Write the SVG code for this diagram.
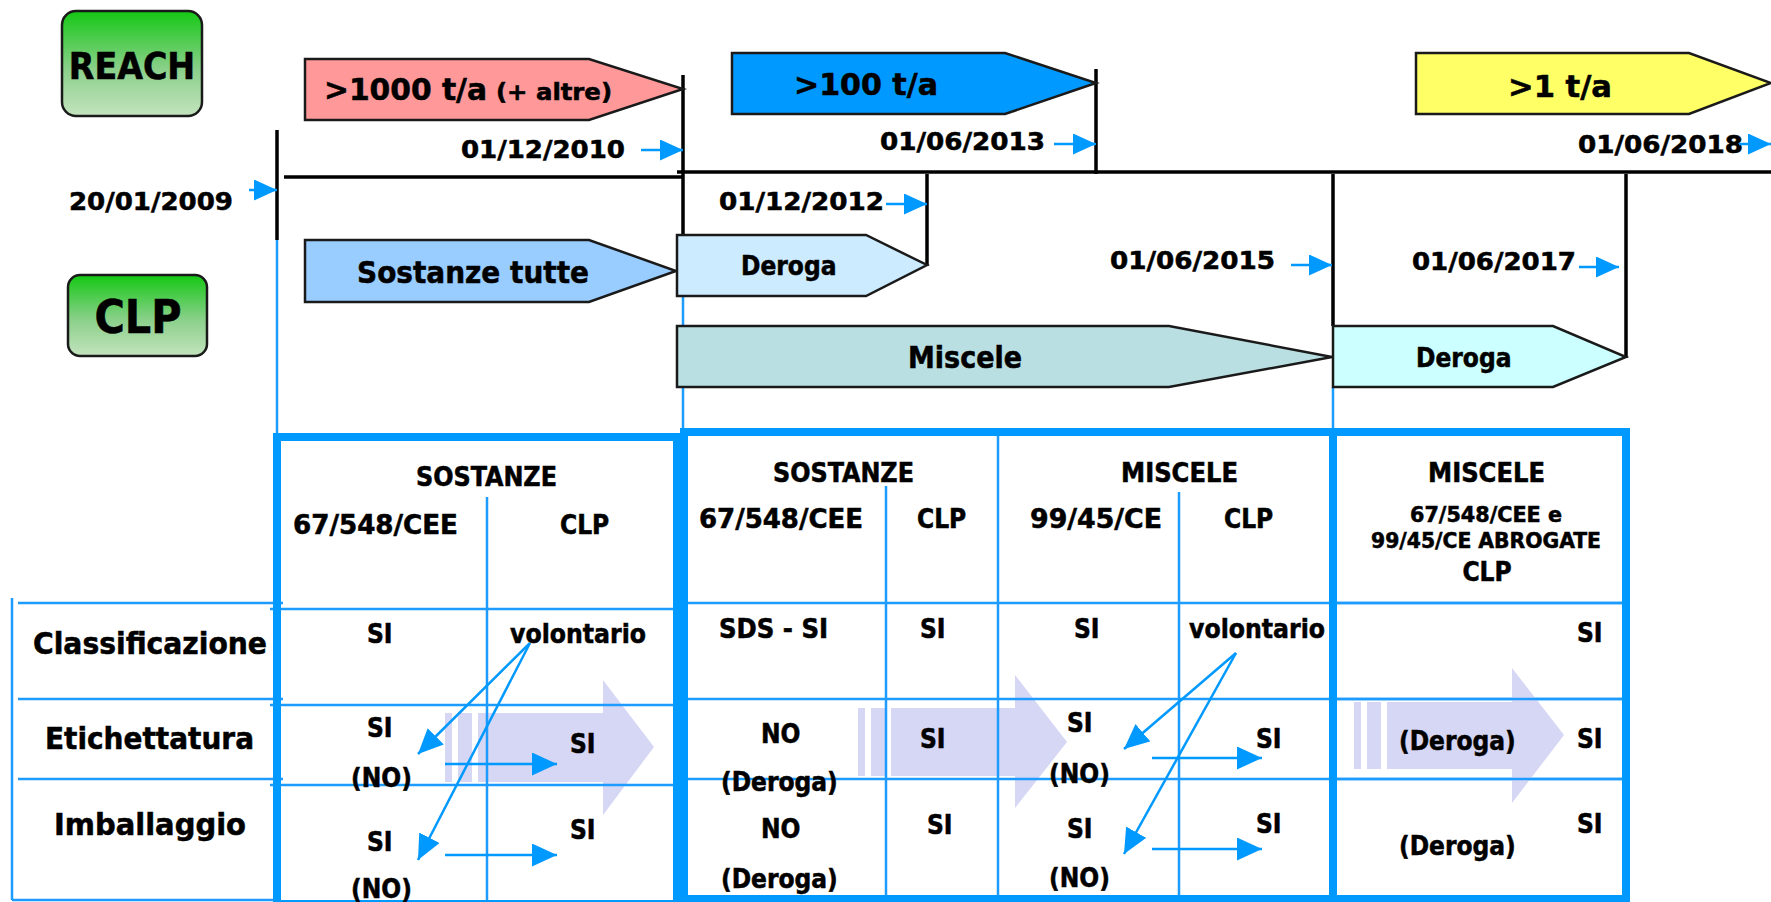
<svg xmlns="http://www.w3.org/2000/svg" width="1771" height="902" viewBox="0 0 1771 902">
<defs>
<linearGradient id="grn" x1="0" y1="0" x2="0" y2="1">
<stop offset="0" stop-color="#14C814"/>
<stop offset="0.55" stop-color="#8AD08A"/>
<stop offset="1" stop-color="#C4E3BE"/>
</linearGradient>
<marker id="ah" markerWidth="23" markerHeight="21" refX="23" refY="10.5" orient="auto" markerUnits="userSpaceOnUse">
<path d="M0,0 L23,10.5 L0,21 z" fill="#0099FF"/>
</marker>
<marker id="ah2" markerWidth="25" markerHeight="23" refX="25" refY="11.5" orient="auto" markerUnits="userSpaceOnUse">
<path d="M0,0 L25,11.5 L0,23 z" fill="#0099FF"/>
</marker>
</defs>
<style>
text{font-family:"DejaVu Sans Condensed","DejaVu Sans",sans-serif;font-weight:bold;fill:#000;stroke:#000;stroke-width:0.5}
.s26{font-size:26px}
.s31{font-size:31px}
.s25{font-size:25px}
.s21{font-size:21px}
.mid{text-anchor:middle}
.shape{stroke:#1a1a1a;stroke-width:2.5}
.blk{stroke:#000;stroke-width:3.5;fill:none}
.thin{stroke:#1E9BFF;stroke-width:2.5;fill:none}
.thick{stroke:#0099FF;stroke-width:8;fill:none}
.lav{fill:#D6D6F5}
.arr{stroke:#0099FF;stroke-width:2.5;fill:none;marker-end:url(#ah)}
.arr2{stroke:#0099FF;stroke-width:2.5;fill:none;marker-end:url(#ah2)}
</style>
<rect width="1771" height="902" fill="#fff"/>

<g id="reach-label">
<rect x="62" y="11" width="140" height="105" rx="14" fill="url(#grn)" class="shape"/>
<text x="132" y="79" class="mid" font-size="37">REACH</text>
</g>
<g id="clp-label">
<rect x="68" y="275" width="139" height="81" rx="12" fill="url(#grn)" class="shape"/>
<text x="138" y="333" class="mid" font-size="46">CLP</text>
</g>

<g id="timeline">
<line x1="277" y1="130" x2="277" y2="240" class="blk"/>
<line x1="284" y1="177" x2="684" y2="177" class="blk"/>
<line x1="683" y1="75" x2="683" y2="235" class="blk"/>
<line x1="677" y1="172" x2="1771" y2="172" class="blk"/>
<line x1="1096" y1="69" x2="1096" y2="174" class="blk"/>
<line x1="927" y1="174" x2="927" y2="266" class="blk"/>
<line x1="1333" y1="174" x2="1333" y2="326" class="blk"/>
<line x1="1626" y1="174" x2="1626" y2="358" class="blk"/>
<line x1="277" y1="240" x2="277" y2="433" class="thin"/>
<line x1="683" y1="296" x2="683" y2="326" class="thin"/>
<line x1="683" y1="387" x2="683" y2="428" class="thin"/>
<line x1="1333" y1="387" x2="1333" y2="428" class="thin"/>
</g>

<g id="bar-1000">
<path d="M305,59 H589 L683,89 L589,120 H305 Z" fill="#FF9999" class="shape"/>
<text x="324" y="100" class="s31" textLength="163" lengthAdjust="spacingAndGlyphs">&gt;1000 t/a</text>
<text x="496" y="100" font-size="23" textLength="116" lengthAdjust="spacingAndGlyphs">(+ altre)</text>
</g>
<g id="bar-100">
<path d="M732,53 H1005 L1096,83 L1005,114 H732 Z" fill="#0099FF" class="shape"/>
<text x="794" y="95" class="s31" textLength="144" lengthAdjust="spacingAndGlyphs">&gt;100 t/a</text>
</g>
<g id="bar-1">
<path d="M1416,53 H1689 L1771,83 L1689,114 H1416 Z" fill="#FFFF66" class="shape"/>
<text x="1508" y="97" class="s31" textLength="104" lengthAdjust="spacingAndGlyphs">&gt;1 t/a</text>
</g>
<g id="bar-sostanze">
<path d="M305,240 H589 L676,271 L589,302 H305 Z" fill="#99CCFF" class="shape"/>
<text x="357" y="283" class="s31" textLength="232" lengthAdjust="spacingAndGlyphs">Sostanze tutte</text>
</g>
<g id="bar-deroga1">
<path d="M677,235 H866 L927,265 L866,296 H677 Z" fill="#CCEBFF" class="shape"/>
<text x="741" y="275" class="s26">Deroga</text>
</g>
<g id="bar-miscele">
<path d="M677,326 H1169 L1332,357 L1169,387 H677 Z" fill="#B9DFE3" class="shape"/>
<text x="908" y="368" font-size="30">Miscele</text>
</g>
<g id="bar-deroga2">
<path d="M1333,326 H1553 L1626,357 L1553,387 H1333 Z" fill="#CCFFFF" class="shape"/>
<text x="1416" y="367" class="s26">Deroga</text>
</g>

<g id="dates">
<text x="69" y="210" class="s25" textLength="164" lengthAdjust="spacingAndGlyphs">20/01/2009</text>
<text x="461" y="158" class="s25" textLength="164" lengthAdjust="spacingAndGlyphs">01/12/2010</text>
<text x="880" y="150" class="s25" textLength="165" lengthAdjust="spacingAndGlyphs">01/06/2013</text>
<text x="719" y="210" class="s25" textLength="165" lengthAdjust="spacingAndGlyphs">01/12/2012</text>
<text x="1110" y="269" class="s25" textLength="165" lengthAdjust="spacingAndGlyphs">01/06/2015</text>
<text x="1578" y="153" class="s25" textLength="165" lengthAdjust="spacingAndGlyphs">01/06/2018</text>
<text x="1412" y="270" class="s25" textLength="164" lengthAdjust="spacingAndGlyphs">01/06/2017</text>
</g>

<g id="row-labels">
<line x1="12" y1="598" x2="12" y2="900" class="thin"/>
<line x1="18" y1="603" x2="283" y2="603" class="thin"/>
<line x1="18" y1="699" x2="283" y2="699" class="thin"/>
<line x1="18" y1="779" x2="283" y2="779" class="thin"/>
<line x1="12" y1="900" x2="273" y2="900" class="thin"/>
<text x="33" y="654" class="s31" textLength="234" lengthAdjust="spacingAndGlyphs">Classificazione</text>
<text x="45" y="749" class="s31" textLength="209" lengthAdjust="spacingAndGlyphs">Etichettatura</text>
<text x="54" y="835" class="s31" textLength="192" lengthAdjust="spacingAndGlyphs">Imballaggio</text>
</g>

<g id="period-1">
<rect x="445" y="713" width="7" height="69" class="lav"/>
<rect x="458" y="713" width="14" height="69" class="lav"/>
<path d="M478,713 H603 V680 L654,747 L603,815 V782 H478 Z" class="lav"/>
<line x1="270" y1="609" x2="677" y2="609" class="thin"/>
<line x1="270" y1="705" x2="677" y2="705" class="thin"/>
<line x1="270" y1="785" x2="677" y2="785" class="thin"/>
<line x1="487" y1="497" x2="487" y2="902" class="thin"/>
<rect x="277" y="437" width="400" height="467" class="thick"/>
<text x="416" y="486" class="s26" textLength="141" lengthAdjust="spacingAndGlyphs">SOSTANZE</text>
<text x="293" y="534" class="s26" textLength="165" lengthAdjust="spacingAndGlyphs">67/548/CEE</text>
<text x="560" y="534" class="s26">CLP</text>
<text x="367" y="643" class="s26">SI</text>
<text x="510" y="643" class="s26" textLength="136" lengthAdjust="spacingAndGlyphs">volontario</text>
<text x="367" y="737" class="s26">SI</text>
<text x="351" y="787" class="s26">(NO)</text>
<text x="570" y="753" class="s26">SI</text>
<text x="367" y="851" class="s26">SI</text>
<text x="351" y="898" class="s26">(NO)</text>
<text x="570" y="839" class="s26">SI</text>
</g>

<g id="period-2">
<rect x="858" y="708" width="7" height="68" class="lav"/>
<rect x="871" y="708" width="14" height="68" class="lav"/>
<path d="M891,708 H1015 V675 L1067,742 L1015,808 V776 H891 Z" class="lav"/>
<line x1="684" y1="603" x2="1626" y2="603" class="thin"/>
<line x1="684" y1="699" x2="1626" y2="699" class="thin"/>
<line x1="684" y1="779" x2="1626" y2="779" class="thin"/>
<line x1="886" y1="486" x2="886" y2="899" class="thin"/>
<line x1="998" y1="436" x2="998" y2="899" class="thin"/>
<line x1="1179" y1="492" x2="1179" y2="899" class="thin"/>
<rect x="684" y="432" width="649" height="467" class="thick"/>
<text x="773" y="482" class="s26" textLength="141" lengthAdjust="spacingAndGlyphs">SOSTANZE</text>
<text x="699" y="528" class="s26" textLength="164" lengthAdjust="spacingAndGlyphs">67/548/CEE</text>
<text x="917" y="528" class="s26">CLP</text>
<text x="719" y="638" class="s26" textLength="109" lengthAdjust="spacingAndGlyphs">SDS - SI</text>
<text x="920" y="638" class="s26">SI</text>
<text x="761" y="743" class="s26">NO</text>
<text x="721" y="791" class="s26">(Deroga)</text>
<text x="920" y="748" class="s26">SI</text>
<text x="761" y="838" class="s26">NO</text>
<text x="721" y="888" class="s26">(Deroga)</text>
<text x="927" y="834" class="s26">SI</text>
<text x="1121" y="482" class="s26" textLength="117" lengthAdjust="spacingAndGlyphs">MISCELE</text>
<text x="1030" y="528" class="s26" textLength="132" lengthAdjust="spacingAndGlyphs">99/45/CE</text>
<text x="1224" y="528" class="s26">CLP</text>
<text x="1074" y="638" class="s26">SI</text>
<text x="1189" y="638" class="s26" textLength="136" lengthAdjust="spacingAndGlyphs">volontario</text>
<text x="1067" y="732" class="s26">SI</text>
<text x="1049" y="783" class="s26">(NO)</text>
<text x="1256" y="748" class="s26">SI</text>
<text x="1067" y="838" class="s26">SI</text>
<text x="1049" y="887" class="s26">(NO)</text>
<text x="1256" y="833" class="s26">SI</text>
</g>

<g id="period-3">
<rect x="1354" y="702" width="7" height="67" class="lav"/>
<rect x="1367" y="702" width="14" height="67" class="lav"/>
<path d="M1387,702 H1512 V668 L1564,735 L1512,803 V769 H1387 Z" class="lav"/>
<line x1="1333" y1="603" x2="1626" y2="603" class="thin"/>
<line x1="1333" y1="699" x2="1626" y2="699" class="thin"/>
<line x1="1333" y1="779" x2="1626" y2="779" class="thin"/>
<rect x="1333" y="432" width="293" height="467" class="thick"/>
<text x="1428" y="482" class="s26" textLength="117" lengthAdjust="spacingAndGlyphs">MISCELE</text>
<text x="1410" y="522" class="s21" textLength="152" lengthAdjust="spacingAndGlyphs">67/548/CEE e</text>
<text x="1371" y="548" class="s21" textLength="230" lengthAdjust="spacingAndGlyphs">99/45/CE ABROGATE</text>
<text x="1487" y="581" class="s26 mid">CLP</text>
<text x="1577" y="642" class="s26">SI</text>
<text x="1399" y="750" class="s26">(Deroga)</text>
<text x="1577" y="748" class="s26">SI</text>
<text x="1399" y="855" class="s26">(Deroga)</text>
<text x="1577" y="833" class="s26">SI</text>
</g>

<g id="connectors">
<line x1="249" y1="190" x2="277" y2="190" class="arr"/>
<line x1="641" y1="150" x2="683" y2="150" class="arr"/>
<line x1="1054" y1="144" x2="1096" y2="144" class="arr"/>
<line x1="886" y1="204" x2="927" y2="204" class="arr"/>
<line x1="1291" y1="265" x2="1332" y2="265" class="arr"/>
<line x1="1739" y1="144" x2="1771" y2="144" class="arr"/>
<line x1="1579" y1="267" x2="1619" y2="267" class="arr"/>
<line x1="530" y1="643" x2="418" y2="754" class="arr2"/>
<line x1="530" y1="643" x2="418" y2="860" class="arr2"/>
<line x1="445" y1="764" x2="557" y2="764" class="arr2"/>
<line x1="445" y1="855" x2="557" y2="855" class="arr2"/>
<line x1="1236" y1="653" x2="1124" y2="749" class="arr2"/>
<line x1="1236" y1="653" x2="1124" y2="854" class="arr2"/>
<line x1="1152" y1="758" x2="1262" y2="758" class="arr2"/>
<line x1="1152" y1="849" x2="1262" y2="849" class="arr2"/>
</g>
</svg>
